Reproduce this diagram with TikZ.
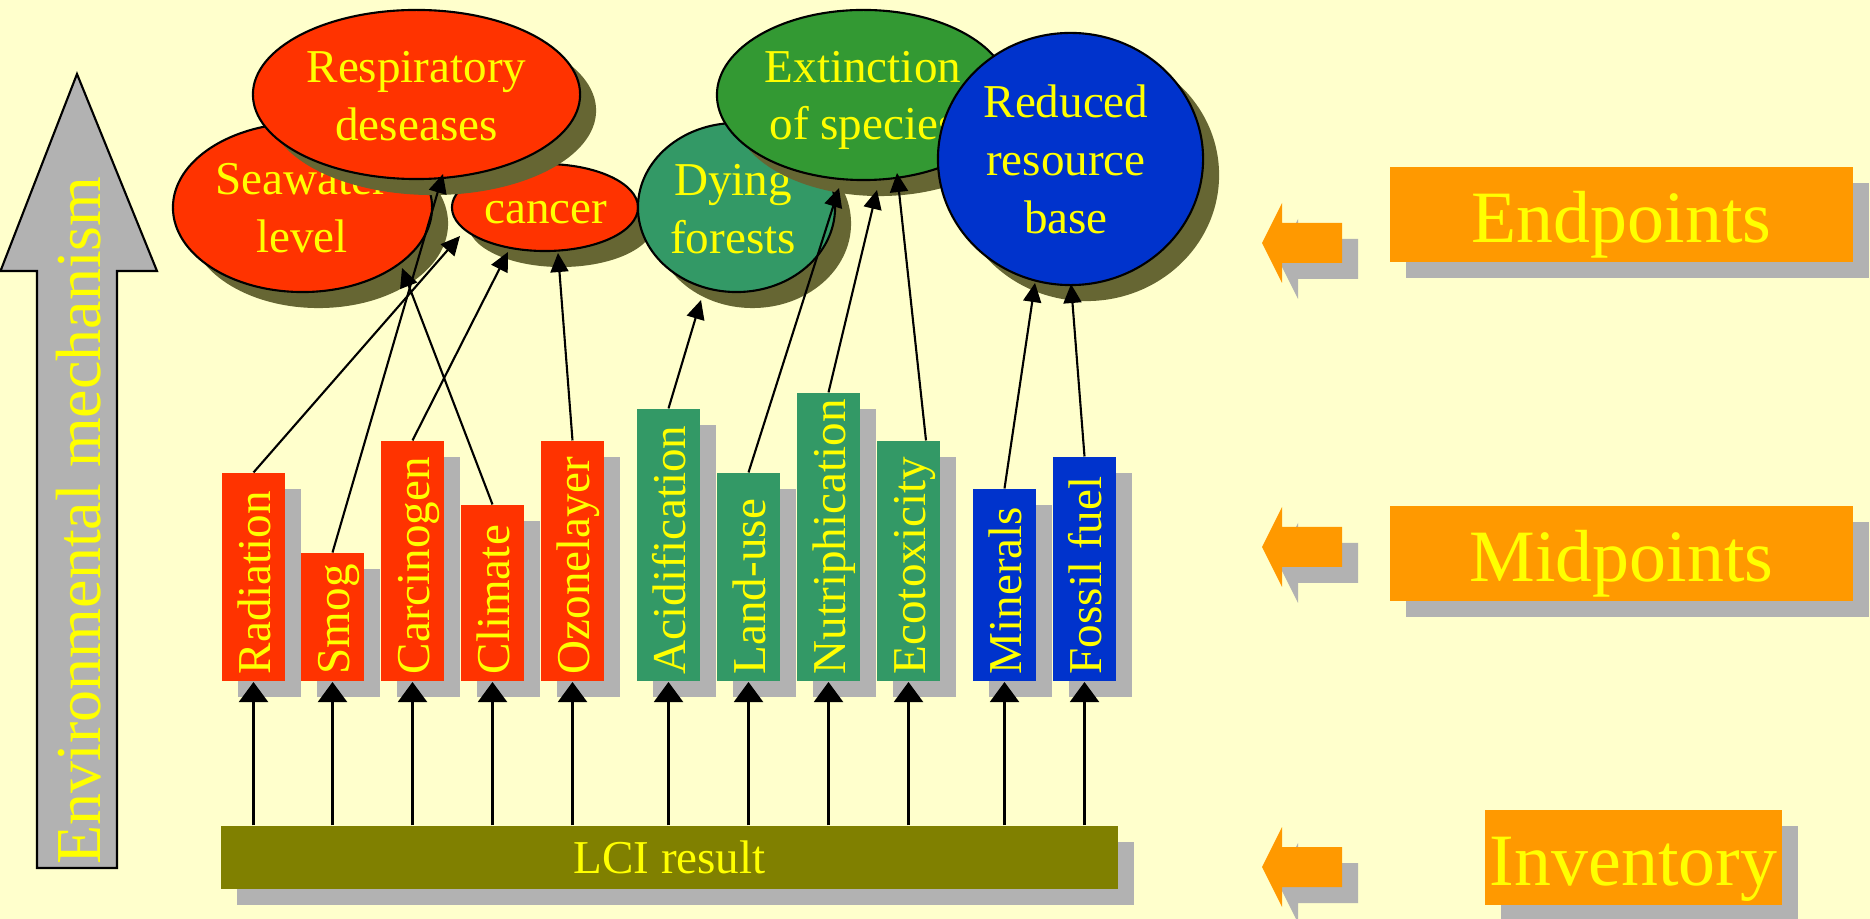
\documentclass[tikz,border=0pt]{standalone}
\usepackage{fontspec}
\setmainfont{Liberation Serif}
\usetikzlibrary{shapes.geometric,shadows,arrows.meta,calc}

\definecolor{paper}{HTML}{FFFFCC}
\definecolor{ink}{HTML}{FFFF00}
\definecolor{redfill}{HTML}{FF3300}
\definecolor{leafgreen}{HTML}{339933}
\definecolor{seagreen}{HTML}{339966}
\definecolor{deepblue}{HTML}{0033CC}
\definecolor{olivebar}{HTML}{808000}
\definecolor{orangebox}{HTML}{FF9900}
\definecolor{shadegray}{HTML}{B2B2B2}
\definecolor{shadeolive}{HTML}{666633}

\begin{document}
\begin{tikzpicture}[x=0.01cm, y=-0.01cm,
  normalfont/.style={font=\fontsize{13.4}{16.4}\selectfont},
  bigfont/.style={font=\fontsize{21}{25}\selectfont},
  greyshadow/.style={drop shadow={shadow xshift=0.16cm, shadow yshift=-0.16cm, fill=shadegray, opacity=1}},
  blob/.style={ellipse, draw=black, line width=0.6pt, inner sep=0pt,
    drop shadow={shadow xshift=0.16cm, shadow yshift=-0.16cm, fill=shadeolive, opacity=1}},
  blobtext/.style={normalfont, text=ink, align=center, inner sep=0pt},
  bar/.style={rectangle, minimum width=0.63cm, inner sep=0pt, greyshadow},
  bartext/.style={normalfont, text=ink, inner sep=0pt, rotate=90, anchor=base west},
  legendbox/.style={rectangle, fill=orangebox, inner sep=0pt, minimum height=0.95cm,
    bigfont, text=ink, text height=0.55cm, text depth=0pt, greyshadow},
  feed/.style={line width=0.6pt, -{Triangle[length=0.2cm, width=0.29cm]}},
  link/.style={line width=0.6pt, -{Triangle[length=0.19cm, width=0.18cm]}},
  pointer/.pic={
    \fill[shadegray] (16,16) -- (36,-24) -- (36,-4) -- (96,-4) -- (96,36) -- (36,36) -- (36,56) -- cycle;
    \fill[orangebox] (0,0) -- (20,-40) -- (20,-20) -- (80,-20) -- (80,20) -- (20,20) -- (20,40) -- cycle;
  }
]
% page
\useasboundingbox (0,0) rectangle (1870,919);
\fill[paper] (0,0) rectangle (1870,919);

% environmental mechanism arrow
\draw[fill=shadegray, line width=0.6pt, line join=miter]
  (77,74) -- (157,271) -- (117,271) -- (117,868) -- (37,868) -- (37,271) -- (0.5,271) -- cycle;
\node[font=\fontsize{18.2}{22}\selectfont, text=ink, inner sep=0pt, rotate=90, anchor=base]
  (envtext) at (100,520.5) {Environmental mechanism};

% endpoints
\node[blob, fill=redfill, minimum width=2.59cm, minimum height=1.69cm] (sea) at (302.5,207.5) {};
\node[blobtext] (seatext) at (302,208) {Seawater\\level};
\node[blob, fill=redfill, minimum width=1.86cm, minimum height=0.87cm] (cancer) at (545,207.5) {};
\node[blobtext] (cancertext) at (546,212.5) {cancer};
\node[blob, fill=redfill, minimum width=3.27cm, minimum height=1.69cm] (resp) at (416.5,94.5) {};
\node[blobtext] (resptext) at (416.5,96) {Respiratory\\deseases};
\node[blob, fill=seagreen, minimum width=1.97cm, minimum height=1.69cm] (dying) at (736.5,207.5) {};
\node[blobtext] (dyingtext) at (733,209) {Dying\\forests};
\node[blob, fill=leafgreen, minimum width=2.93cm, minimum height=1.70cm] (ext) at (863.5,95) {};
\node[blobtext] (exttext) at (863,100.5) {Extinction\\of species};
\node[blob, fill=deepblue, minimum width=2.65cm, minimum height=2.52cm] (res) at (1070.5,159) {};
\node[blobtext] (restext) at (1066,159.5) {Reduced\\resource\\base};

% midpoints
\foreach \n/\x/\h/\c/\t in {
  rad/253.5/2.08/redfill/Radiation,
  smog/332.5/1.28/redfill/Smog,
  carc/412.5/2.40/redfill/Carcinogen,
  clim/492.5/1.76/redfill/Climate,
  ozone/572.5/2.40/redfill/Ozonelayer,
  acid/668.5/2.72/seagreen/Acidification,
  land/748.5/2.08/seagreen/Land-use,
  nutri/828.5/2.88/seagreen/Nutriphication,
  eco/908.5/2.40/seagreen/Ecotoxicity,
  mins/1004.5/1.92/deepblue/Minerals,
  fossil/1084.5/2.24/deepblue/Fossil fuel}{
  \node[bar, fill=\c, minimum height=\h cm, anchor=south] (\n) at (\x,682) {};
  \node[bartext] (\n text) at (\x+17,675) {\t};
}

% inventory
\node[rectangle, fill=olivebar, minimum width=8.97cm, minimum height=0.63cm, inner sep=0pt,
  normalfont, text=ink, text height=0.32cm, text depth=0pt, greyshadow] (lci) at (669.5,857.5) {LCI result};

% inventory to midpoints
\foreach \n in {rad,smog,carc,clim,ozone,acid,land,nutri,eco,mins,fossil}
  \draw[feed] (\n.south |- lci.north) -- (\n.south);

% midpoints to endpoints
\coordinate (radend) at (460,236);
\coordinate (smogend) at (443,174);
\coordinate (carcend) at (508,252);
\coordinate (climend) at (402,268);
\coordinate (ozoneend) at (558,253);
\coordinate (acidend) at (701,300);
\coordinate (landend) at (839,188);
\coordinate (nutriend) at (877,190);
\coordinate (ecoend) at (897,173);
\coordinate (minsend) at (1035,283);
\coordinate (fossilend) at (1071,284);
\coordinate (ecostart) at ($(eco.north)+(17.5,0)$);
\draw[link] (rad.north) -- (radend);
\draw[link] (smog.north) -- (smogend);
\draw[link] (carc.north) -- (carcend);
\draw[link] (clim.north) -- (climend);
\draw[link] (ozone.north) -- (ozoneend);
\draw[link] (acid.north) -- (acidend);
\draw[link] (land.north) -- (landend);
\draw[link] (nutri.north) -- (nutriend);
\draw[link] (ecostart) -- (ecoend);
\draw[link] (mins.north) -- (minsend);
\draw[link] (fossil.north) -- (fossilend);

% level legend
\pic at (1262,243) {pointer};
\pic at (1262,547) {pointer};
\pic at (1262,867) {pointer};
\node[legendbox, minimum width=4.63cm] (endpoints) at (1621.5,214.5) {Endpoints};
\node[legendbox, minimum width=4.63cm] (midpoints) at (1621.5,553.5) {Midpoints};
\node[legendbox, minimum width=2.97cm] (inventory) at (1633.5,857.5) {Inventory};
\end{tikzpicture}
\end{document}
